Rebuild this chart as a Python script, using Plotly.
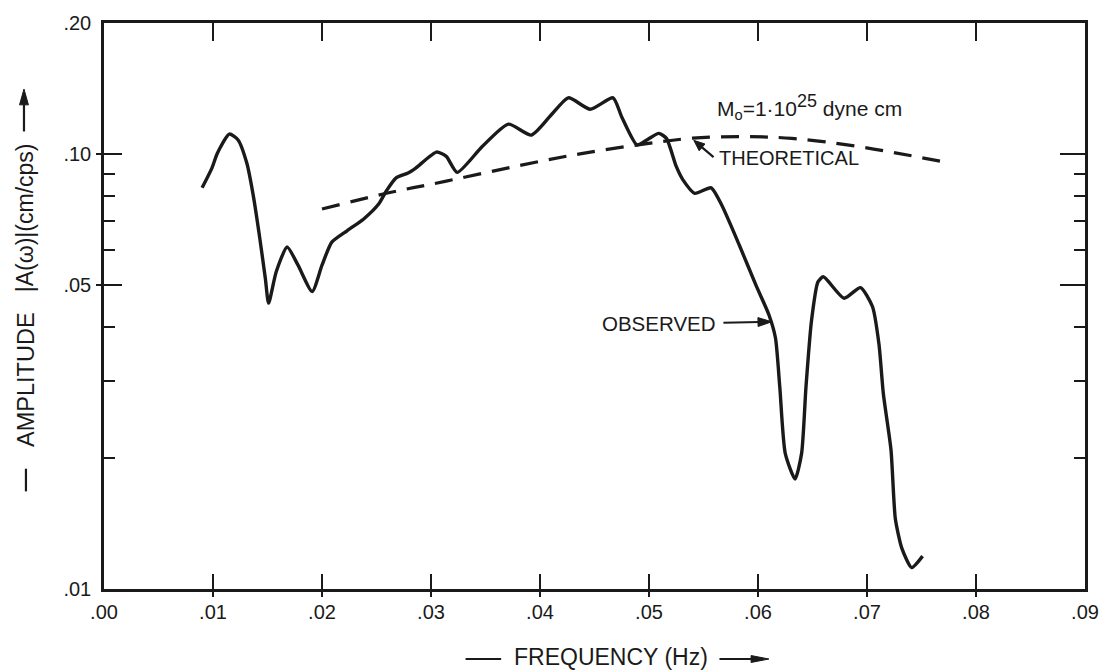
import plotly.graph_objects as go
import math

# ---- data ----
obs_freq = [0.0090, 0.0099, 0.0104, 0.0115, 0.0123, 0.0131, 0.0137, 0.0143, 0.0148, 0.0151,
            0.0158, 0.0168, 0.0178, 0.0191, 0.0200, 0.0209, 0.0223, 0.0238, 0.0252, 0.0259,
            0.0268, 0.0279, 0.0286, 0.0305, 0.0314, 0.0324, 0.0347, 0.0371, 0.0392, 0.0410,
            0.0426, 0.0446, 0.0467, 0.0475, 0.0489, 0.0498, 0.0509, 0.0516, 0.0525, 0.0531,
            0.0542, 0.0557, 0.0567, 0.0583, 0.0598, 0.0610, 0.0616, 0.0620, 0.0625, 0.0634,
            0.0640, 0.0644, 0.0649, 0.0655, 0.0660, 0.0679, 0.0694, 0.0705, 0.0711, 0.0715,
            0.0722, 0.0726, 0.0732, 0.0741, 0.0751]
obs_amp = [0.0836, 0.0928, 0.1004, 0.1111, 0.1077, 0.0953, 0.0801, 0.0638, 0.0518, 0.0454,
           0.0536, 0.0611, 0.0555, 0.0483, 0.0555, 0.0627, 0.0666, 0.0708, 0.0767, 0.0822,
           0.0881, 0.0904, 0.0928, 0.1010, 0.0987, 0.0907, 0.1040, 0.1171, 0.1105, 0.1227,
           0.1346, 0.1267, 0.1346, 0.1216, 0.1049, 0.1077, 0.1115, 0.1086, 0.0936, 0.0873,
           0.0812, 0.0836, 0.0760, 0.0616, 0.0500, 0.0427, 0.0378, 0.0291, 0.0205, 0.0179,
           0.0205, 0.0291, 0.0412, 0.0508, 0.0522, 0.0466, 0.0493, 0.0446, 0.0365, 0.0281,
           0.0209, 0.0145, 0.0124, 0.0112, 0.0119]

th_freq = [0.0200, 0.0259, 0.0314, 0.0377, 0.0438, 0.0498, 0.0540, 0.0586, 0.0631, 0.0692, 0.0773]
th_amp = [0.0747, 0.0812, 0.0866, 0.0936, 0.1002, 0.1056, 0.1087, 0.1096, 0.1086, 0.1040, 0.0956]

x_tickvals = [0.00, 0.01, 0.02, 0.03, 0.04, 0.05, 0.06, 0.07, 0.08, 0.09]
x_ticktext = [".00", ".01", ".02", ".03", ".04", ".05", ".06", ".07", ".08", ".09"]
x_inner_ticks = [0.01, 0.02, 0.03, 0.04, 0.05, 0.06, 0.07, 0.08]
y_tickvals = [0.01, 0.05, 0.10, 0.20]
y_ticktext = [".01", ".05", ".10", ".20"]
y_major_ticks = [0.05, 0.10]
y_minor_ticks = [0.02, 0.03, 0.04, 0.06, 0.07, 0.08, 0.09]

# ---- layout geometry ----
W, H = 1111, 672
L, R, T, B = 104, 1097, 15, 589
INK = "#1a1a1a"
FONT = "Liberation Sans, Arial, sans-serif"


def px2x(px):
    return (px - L) / (R - L)


def py2y(py):
    return (B - py) / (B - T)


yr = [math.log10(0.01), math.log10(0.20)]
xr = [0.0, 0.09]

fig = go.Figure()
fig.add_trace(go.Scatter(x=th_freq, y=th_amp, mode="lines",
                         line=dict(color=INK, width=3.2, dash="18px,11px", shape="spline", smoothing=1.0),
                         hoverinfo="skip", showlegend=False))
fig.add_trace(go.Scatter(x=obs_freq, y=obs_amp, mode="lines",
                         line=dict(color=INK, width=3.4, shape="spline", smoothing=0.6),
                         hoverinfo="skip", showlegend=False))
# empty traces so the overlay tick axes get drawn
fig.add_trace(go.Scatter(x=[], y=[], xaxis="x2", yaxis="y2", mode="lines", hoverinfo="skip", showlegend=False))
fig.add_trace(go.Scatter(x=[], y=[], xaxis="x", yaxis="y3", mode="lines", hoverinfo="skip", showlegend=False))

axis_common = dict(showgrid=False, zeroline=False, tickcolor=INK, tickwidth=2.2)

fig.update_layout(
    width=W, height=H, autosize=False,
    margin=dict(l=L, r=W - R, t=T, b=H - B, pad=0),
    paper_bgcolor="white", plot_bgcolor="white",
    font=dict(family=FONT, color=INK),
    showlegend=False,
    xaxis=dict(range=xr, tickvals=x_tickvals, ticktext=x_ticktext, ticks="inside", ticklen=15,
               showline=True, linecolor=INK, linewidth=2.6, mirror=True,
               tickfont=dict(size=20, color=INK), ticklabelstandoff=3,
               minor=dict(ticks="outside", ticklen=5, tickvals=x_inner_ticks, tickcolor=INK, tickwidth=2.2),
               **axis_common),
    xaxis2=dict(range=xr, overlaying="x", anchor="y", side="top", tickvals=x_inner_ticks,
                ticks="inside", ticklen=18, showticklabels=False, showline=False, **axis_common),
    yaxis=dict(type="log", range=yr, tickvals=y_tickvals, ticktext=y_ticktext, ticks="inside", ticklen=18,
               showline=True, linecolor=INK, linewidth=2.6, mirror=True,
               tickfont=dict(size=20, color=INK), ticklabelstandoff=6,
               minor=dict(ticks="inside", ticklen=11, tickvals=y_minor_ticks, tickcolor=INK, tickwidth=2.2),
               **axis_common),
    yaxis2=dict(type="log", range=yr, overlaying="y", anchor="x", side="right", tickvals=y_major_ticks,
                ticks="inside", ticklen=25, showticklabels=False, showline=False,
                minor=dict(ticks="inside", ticklen=11, tickvals=y_minor_ticks, tickcolor=INK, tickwidth=2.2),
                **axis_common),
    yaxis3=dict(type="log", range=yr, overlaying="y", anchor="x", side="left", tickvals=y_major_ticks,
                ticks="outside", ticklen=7, showticklabels=False, showline=False, **axis_common),
)

ann = []
ann.append(dict(text="M<sub>o</sub>=1·10<sup><span style='font-size:18px'>25</span></sup> dyne cm",
                x=px2x(722), y=py2y(100), xanchor="left", yanchor="middle", font=dict(size=21)))
ann.append(dict(text="THEORETICAL", x=px2x(724), y=py2y(152), xanchor="left", yanchor="middle", font=dict(size=20)))
ann.append(dict(text="OBSERVED", x=px2x(606), y=py2y(320), xanchor="left", yanchor="middle", font=dict(size=20.5)))
ann.append(dict(text="AMPLITUDE", x=px2x(25), y=py2y(376), textangle=-90, xanchor="center", yanchor="middle", font=dict(size=23.5)))
ann.append(dict(text="|A(ω)|(cm/cps)", x=px2x(24), y=py2y(212), textangle=-90, xanchor="center", yanchor="middle", font=dict(size=23)))
ann.append(dict(text="FREQUENCY (Hz)", x=px2x(617), y=py2y(658), xanchor="center", yanchor="middle", font=dict(size=23)))
for a in ann:
    a.update(xref="paper", yref="paper", showarrow=False)

# ---- decorative pointer lines and arrowheads (pixel geometry -> paper) ----
shapes = []


def seg(x0, y0, x1, y1, w=2.2):
    shapes.append(dict(type="line", xref="paper", yref="paper",
                       x0=px2x(x0), y0=py2y(y0), x1=px2x(x1), y1=py2y(y1),
                       line=dict(color=INK, width=w)))


def arrow(tx0, ty0, tipx, tipy, head=12, half=4.5):
    dx, dy = tipx - tx0, tipy - ty0
    n = math.hypot(dx, dy)
    ux, uy = dx / n, dy / n
    bx, by = tipx - ux * head, tipy - uy * head
    seg(tx0, ty0, bx + ux * 2, by + uy * 2)
    p1 = (bx - uy * half, by + ux * half)
    p2 = (bx + uy * half, by - ux * half)
    path = "M {} {} L {} {} L {} {} Z".format(px2x(tipx), py2y(tipy), px2x(p1[0]), py2y(p1[1]), px2x(p2[0]), py2y(p2[1]))
    shapes.append(dict(type="path", xref="paper", yref="paper", path=path,
                       fillcolor=INK, line=dict(color=INK, width=1)))


arrow(721, 151, 701, 134, head=11, half=4.5)      # THEORETICAL pointer
arrow(731, 319, 780, 318, head=14, half=4.5)      # OBSERVED pointer
seg(25, 467, 25, 490)                             # y title leading dash
arrow(23, 125, 23, 82, head=16, half=4.5)         # y title arrow
seg(470, 660, 506, 660)                           # x title leading dash
arrow(727, 660, 777, 660, head=18, half=3.5)      # x title arrow

fig.update_layout(annotations=ann, shapes=shapes)

fig.write_html("out.html")
